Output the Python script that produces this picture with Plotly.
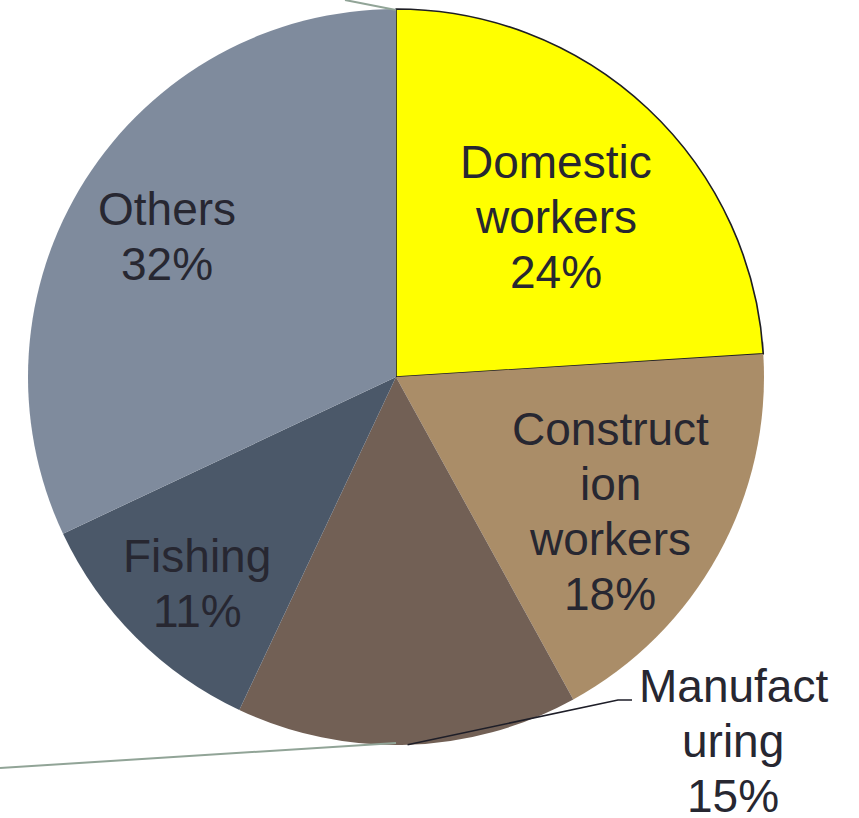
import math
import plotly.graph_objects as go

W, H = 859, 818

categories = ["Domestic workers", "Construction workers", "Manufacturing", "Fishing", "Others"]
shares = [24, 18, 15, 11, 32]
label_lines = [["Domestic", "workers", "24%"],
               ["Construct", "ion", "workers", "18%"],
               ["Manufact", "uring", "15%"],
               ["Fishing", "11%"],
               ["Others", "32%"]]
colors = ["#FFFF00", "#AA8D68", "#726055", "#4B5869", "#7F8B9D"]

# pie geometry (pixels)
cx, cy, R = 396, 377, 368
# label anchor: centre x and first-line baseline (pixels)
label_pos = [(556, 178), (610, 445), (733, 702), (197, 572), (167, 225)]
LINE_GAP = 55
FS = 46

def px(x):
    return x / W

def py(y):
    return 1 - y / H

fig = go.Figure()
fig.add_trace(go.Pie(
    labels=categories,
    values=shares,
    sort=False,
    direction="clockwise",
    rotation=0,
    textinfo="none",
    hoverinfo="label+percent",
    marker=dict(colors=colors,
                line=dict(color="#1E1E24", width=[1.6, 0, 0, 0, 0])),
    domain=dict(x=[px(cx - R), px(cx + R)], y=[py(cy + R), py(cy - R)]),
    showlegend=False,
))

def arc_point(frac):
    a = 2 * math.pi * frac
    return cx + R * math.sin(a), cy - R * math.cos(a)

total = sum(shares)
cum = 0
mids = []
for v in shares:
    mids.append((cum + v / 2) / total)
    cum += v

tx, ty = arc_point(0)
bx, by = arc_point(0.5)
shapes = [
    dict(type="line", xref="paper", yref="paper", x0=px(345), y0=py(0), x1=px(tx), y1=py(ty + 1),
         line=dict(color="#91A497", width=2)),
    dict(type="line", xref="paper", yref="paper", x0=px(0), y0=py(768), x1=px(bx), y1=py(by - 2),
         line=dict(color="#91A497", width=2)),
]
mx, my = arc_point(mids[2])
shapes.append(dict(type="path", xref="paper", yref="paper",
                   path=f"M {px(mx)},{py(my)} L {px(618)},{py(700)} L {px(632)},{py(700)}",
                   line=dict(color="#1E1E28", width=1.6)))

annotations = []
for lines, (lx, lb) in zip(label_lines, label_pos):
    for i, t in enumerate(lines):
        base = lb + i * LINE_GAP
        annotations.append(dict(text=t, x=px(lx), y=py(base - 0.3465 * FS), xref="paper", yref="paper",
                                xanchor="center", yanchor="middle", showarrow=False,
                                align="center", borderpad=0,
                                font=dict(family="Liberation Sans, Arial, sans-serif", size=FS,
                                          color="#272731")))

fig.update_layout(
    width=W, height=H,
    margin=dict(l=0, r=0, t=0, b=0),
    paper_bgcolor="white",
    plot_bgcolor="white",
    shapes=shapes,
    annotations=annotations,
)

fig.write_html("out.html")
